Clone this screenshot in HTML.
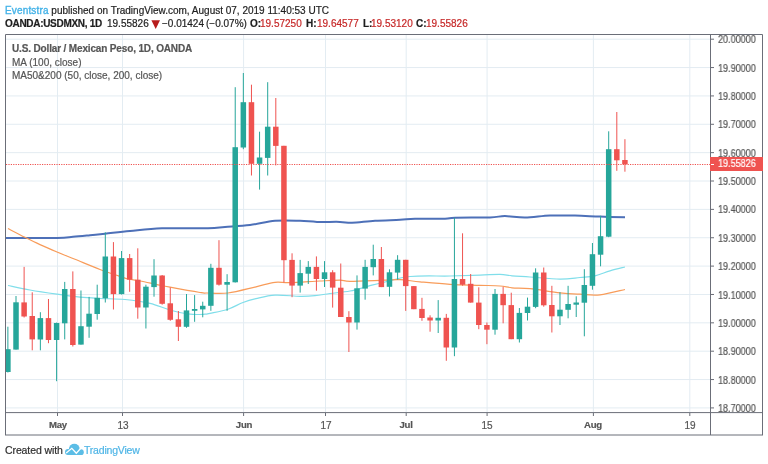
<!DOCTYPE html><html><head><meta charset="utf-8"><style>
html,body{margin:0;padding:0;background:#fff;width:768px;height:464px;overflow:hidden;position:relative;}
.t,.pl,.xl,.h{will-change:transform;-webkit-text-stroke:0.2px currentColor;}
.t{position:absolute;white-space:nowrap;font-family:"Liberation Sans",sans-serif;font-size:10px;line-height:12px;color:#1e1e1e;}
.h{position:absolute;white-space:nowrap;font-family:"Liberation Sans",sans-serif;font-size:10px;line-height:12px;color:#1e1e1e;top:18px;}
.pl{position:absolute;left:718px;font-family:"Liberation Sans",sans-serif;font-size:10px;line-height:12px;color:#555;transform:scaleX(0.905);transform-origin:0 0;}
.xl{position:absolute;font-family:"Liberation Sans",sans-serif;font-size:10px;line-height:12px;color:#555;text-align:center;width:40px;}
</style></head><body>
<svg width="768" height="464" style="position:absolute;left:0;top:0">
<line x1="6" y1="39.2" x2="710" y2="39.2" stroke="#e3ecf2" stroke-width="1"/>
<line x1="6" y1="67.56" x2="710" y2="67.56" stroke="#e3ecf2" stroke-width="1"/>
<line x1="6" y1="95.93" x2="710" y2="95.93" stroke="#e3ecf2" stroke-width="1"/>
<line x1="6" y1="124.29" x2="710" y2="124.29" stroke="#e3ecf2" stroke-width="1"/>
<line x1="6" y1="152.65" x2="710" y2="152.65" stroke="#e3ecf2" stroke-width="1"/>
<line x1="6" y1="181.01" x2="710" y2="181.01" stroke="#e3ecf2" stroke-width="1"/>
<line x1="6" y1="209.38" x2="710" y2="209.38" stroke="#e3ecf2" stroke-width="1"/>
<line x1="6" y1="237.74" x2="710" y2="237.74" stroke="#e3ecf2" stroke-width="1"/>
<line x1="6" y1="266.1" x2="710" y2="266.1" stroke="#e3ecf2" stroke-width="1"/>
<line x1="6" y1="294.47" x2="710" y2="294.47" stroke="#e3ecf2" stroke-width="1"/>
<line x1="6" y1="322.83" x2="710" y2="322.83" stroke="#e3ecf2" stroke-width="1"/>
<line x1="6" y1="351.19" x2="710" y2="351.19" stroke="#e3ecf2" stroke-width="1"/>
<line x1="6" y1="379.56" x2="710" y2="379.56" stroke="#e3ecf2" stroke-width="1"/>
<line x1="6" y1="407.92" x2="710" y2="407.92" stroke="#e3ecf2" stroke-width="1"/>
<line x1="57.5" y1="35" x2="57.5" y2="412" stroke="#e3ecf2" stroke-width="1"/>
<line x1="122.5" y1="35" x2="122.5" y2="412" stroke="#e3ecf2" stroke-width="1"/>
<line x1="243.6" y1="35" x2="243.6" y2="412" stroke="#e3ecf2" stroke-width="1"/>
<line x1="325.5" y1="35" x2="325.5" y2="412" stroke="#e3ecf2" stroke-width="1"/>
<line x1="406.2" y1="35" x2="406.2" y2="412" stroke="#e3ecf2" stroke-width="1"/>
<line x1="487.08" y1="35" x2="487.08" y2="412" stroke="#e3ecf2" stroke-width="1"/>
<line x1="593.4" y1="35" x2="593.4" y2="412" stroke="#e3ecf2" stroke-width="1"/>
<line x1="689.8" y1="35" x2="689.8" y2="412" stroke="#e3ecf2" stroke-width="1"/>
<defs><clipPath id="cp"><rect x="6" y="35" width="704" height="377"/></clipPath></defs>
<g clip-path="url(#cp)">
<path d="M8,285.5 C11.67,286.25 21.83,288.55 30,290.0 C38.17,291.45 48.67,293.00 57,294.2 C65.33,295.40 72.83,296.48 80,297.2 C87.17,297.92 92.50,298.12 100,298.5 C107.50,298.88 116.67,298.70 125,299.5 C133.33,300.30 142.50,301.55 150,303.3 C157.50,305.05 163.33,308.18 170,310.0 C176.67,311.82 184.17,313.50 190,314.2 C195.83,314.90 201.67,314.35 205,314.2 C208.33,314.05 206.17,314.13 210,313.3 C213.83,312.47 222.50,311.00 228,309.2 C233.50,307.40 238.33,304.25 243,302.5 C247.67,300.75 250.67,299.92 256,298.7 C261.33,297.48 267.67,295.60 275,295.2 C282.33,294.80 293.33,296.22 300,296.3 C306.67,296.38 310.00,296.17 315,295.7 C320.00,295.23 324.17,294.28 330,293.5 C335.83,292.72 343.33,292.30 350,291.0 C356.67,289.70 364.17,287.20 370,285.7 C375.83,284.20 378.33,283.53 385,282.0 C391.67,280.47 399.17,277.50 410,276.5 C420.83,275.50 438.33,276.22 450,276.0 C461.67,275.78 471.67,275.48 480,275.2 C488.33,274.92 494.67,274.20 500,274.3 C505.33,274.40 507.00,275.35 512,275.8 C517.00,276.25 522.00,276.43 530,277.0 C538.00,277.57 551.67,279.12 560,279.2 C568.33,279.28 574.17,278.07 580,277.5 C585.83,276.93 590.00,276.92 595,275.8 C600.00,274.68 605.00,272.27 610,270.8 C615.00,269.33 622.50,267.63 625,267.0" fill="none" stroke="#80deea" stroke-width="1.2"/>
<path d="M5,237.9 C13.67,237.90 45.67,238.08 57,237.9 C68.33,237.72 67.50,237.25 73,236.8 C78.50,236.35 84.67,235.72 90,235.2 C95.33,234.68 98.33,234.40 105,233.7 C111.67,233.00 120.50,231.90 130,231.0 C139.50,230.10 149.00,228.75 162,228.3 C175.00,227.85 197.50,228.52 208,228.3 C218.50,228.08 218.00,227.55 225,227.0 C232.00,226.45 241.67,226.03 250,225.0 C258.33,223.97 266.67,221.50 275,220.8 C283.33,220.10 293.00,220.62 300,220.8 C307.00,220.98 310.33,221.72 317,221.9 C323.67,222.08 334.17,221.75 340,221.9 C345.83,222.05 346.17,222.98 352,222.8 C357.83,222.62 367.00,221.30 375,220.8 C383.00,220.30 393.33,220.13 400,219.8 C406.67,219.47 407.50,218.98 415,218.8 C422.50,218.62 438.33,218.88 445,218.7 C451.67,218.52 447.50,217.92 455,217.7 C462.50,217.48 481.67,217.67 490,217.4 C498.33,217.13 499.17,216.07 505,216.1 C510.83,216.13 517.50,217.68 525,217.6 C532.50,217.52 541.67,215.93 550,215.6 C558.33,215.27 566.67,215.43 575,215.6 C583.33,215.77 591.67,216.32 600,216.6 C608.33,216.88 620.83,217.18 625,217.3" fill="none" stroke="#4d70b8" stroke-width="2"/>
<path d="M8,228.5 C10.83,229.97 19.67,234.62 25,237.3 C30.33,239.98 34.67,242.15 40,244.6 C45.33,247.05 51.17,249.55 57,252.0 C62.83,254.45 67.83,256.38 75,259.3 C82.17,262.22 93.33,266.93 100,269.5 C106.67,272.07 110.33,273.12 115,274.7 C119.67,276.28 123.83,277.95 128,279.0 C132.17,280.05 135.33,280.12 140,281.0 C144.67,281.88 151.00,283.27 156,284.3 C161.00,285.33 162.67,285.83 170,287.2 C177.33,288.57 193.83,291.53 200,292.5 C206.17,293.47 202.33,292.92 207,293.0 C211.67,293.08 219.83,294.03 228,293.0 C236.17,291.97 248.17,288.58 256,286.8 C263.83,285.02 269.33,282.98 275,282.3 C280.67,281.62 282.50,282.92 290,282.7 C297.50,282.48 311.67,281.42 320,281.0 C328.33,280.58 335.00,280.15 340,280.2 C345.00,280.25 342.67,281.30 350,281.3 C357.33,281.30 375.67,280.47 384,280.2 C392.33,279.93 394.00,279.43 400,279.7 C406.00,279.97 411.67,281.03 420,281.8 C428.33,282.57 440.00,283.72 450,284.3 C460.00,284.88 471.67,285.02 480,285.3 C488.33,285.58 494.67,285.58 500,286.0 C505.33,286.42 507.00,287.35 512,287.8 C517.00,288.25 522.00,287.87 530,288.7 C538.00,289.53 551.67,291.88 560,292.8 C568.33,293.72 573.33,293.87 580,294.2 C586.67,294.53 592.50,295.58 600,294.8 C607.50,294.02 620.83,290.38 625,289.5" fill="none" stroke="#f89c5a" stroke-width="1.2"/>
<line x1="7.89" y1="326.7" x2="7.89" y2="372.5" stroke="#26a69a" stroke-width="1"/>
<rect x="5.14" y="349.2" width="5.5" height="22.8" fill="#26a69a"/>
<line x1="16.01" y1="296.0" x2="16.01" y2="349.6" stroke="#26a69a" stroke-width="1"/>
<rect x="13.26" y="302.3" width="5.5" height="47.3" fill="#26a69a"/>
<line x1="24.12" y1="266.9" x2="24.12" y2="317.5" stroke="#ef5350" stroke-width="1"/>
<rect x="21.37" y="302.4" width="5.5" height="14.1" fill="#ef5350"/>
<line x1="32.24" y1="292.3" x2="32.24" y2="350.3" stroke="#ef5350" stroke-width="1"/>
<rect x="29.49" y="316.0" width="5.5" height="23.4" fill="#ef5350"/>
<line x1="40.36" y1="312.2" x2="40.36" y2="350.3" stroke="#26a69a" stroke-width="1"/>
<rect x="37.61" y="318.1" width="5.5" height="21.4" fill="#26a69a"/>
<line x1="48.48" y1="299.0" x2="48.48" y2="343.2" stroke="#ef5350" stroke-width="1"/>
<rect x="45.73" y="318.1" width="5.5" height="21.9" fill="#ef5350"/>
<line x1="56.60" y1="322.6" x2="56.60" y2="381.2" stroke="#26a69a" stroke-width="1"/>
<rect x="53.85" y="323.0" width="5.5" height="17.0" fill="#26a69a"/>
<line x1="64.72" y1="281.9" x2="64.72" y2="339.4" stroke="#26a69a" stroke-width="1"/>
<rect x="61.97" y="289.0" width="5.5" height="34.3" fill="#26a69a"/>
<line x1="72.84" y1="271.4" x2="72.84" y2="346.5" stroke="#ef5350" stroke-width="1"/>
<rect x="70.09" y="289.0" width="5.5" height="56.0" fill="#ef5350"/>
<line x1="80.96" y1="290.5" x2="80.96" y2="344.6" stroke="#26a69a" stroke-width="1"/>
<rect x="78.21" y="326.2" width="5.5" height="18.4" fill="#26a69a"/>
<line x1="89.08" y1="296.9" x2="89.08" y2="337.8" stroke="#26a69a" stroke-width="1"/>
<rect x="86.33" y="313.7" width="5.5" height="13.0" fill="#26a69a"/>
<line x1="97.19" y1="284.7" x2="97.19" y2="319.7" stroke="#26a69a" stroke-width="1"/>
<rect x="94.44" y="297.8" width="5.5" height="16.2" fill="#26a69a"/>
<line x1="105.31" y1="232.3" x2="105.31" y2="302.5" stroke="#26a69a" stroke-width="1"/>
<rect x="102.56" y="256.5" width="5.5" height="41.8" fill="#26a69a"/>
<line x1="113.43" y1="242.1" x2="113.43" y2="309.5" stroke="#ef5350" stroke-width="1"/>
<rect x="110.68" y="256.5" width="5.5" height="37.6" fill="#ef5350"/>
<line x1="121.55" y1="251.0" x2="121.55" y2="294.5" stroke="#26a69a" stroke-width="1"/>
<rect x="118.80" y="258.1" width="5.5" height="36.0" fill="#26a69a"/>
<line x1="129.67" y1="254.0" x2="129.67" y2="291.8" stroke="#ef5350" stroke-width="1"/>
<rect x="126.92" y="258.1" width="5.5" height="21.6" fill="#ef5350"/>
<line x1="137.79" y1="248.3" x2="137.79" y2="318.7" stroke="#ef5350" stroke-width="1"/>
<rect x="135.04" y="279.7" width="5.5" height="27.8" fill="#ef5350"/>
<line x1="145.91" y1="284.7" x2="145.91" y2="328.5" stroke="#26a69a" stroke-width="1"/>
<rect x="143.16" y="286.7" width="5.5" height="20.8" fill="#26a69a"/>
<line x1="154.03" y1="259.2" x2="154.03" y2="296.7" stroke="#26a69a" stroke-width="1"/>
<rect x="151.28" y="275.5" width="5.5" height="11.6" fill="#26a69a"/>
<line x1="162.15" y1="275.0" x2="162.15" y2="304.7" stroke="#ef5350" stroke-width="1"/>
<rect x="159.40" y="275.5" width="5.5" height="28.3" fill="#ef5350"/>
<line x1="170.27" y1="287.5" x2="170.27" y2="320.8" stroke="#ef5350" stroke-width="1"/>
<rect x="167.52" y="303.3" width="5.5" height="16.5" fill="#ef5350"/>
<line x1="178.38" y1="311.0" x2="178.38" y2="341.0" stroke="#ef5350" stroke-width="1"/>
<rect x="175.63" y="319.3" width="5.5" height="7.5" fill="#ef5350"/>
<line x1="186.50" y1="294.0" x2="186.50" y2="327.8" stroke="#26a69a" stroke-width="1"/>
<rect x="183.75" y="310.4" width="5.5" height="16.4" fill="#26a69a"/>
<line x1="194.62" y1="295.1" x2="194.62" y2="321.8" stroke="#26a69a" stroke-width="1"/>
<rect x="191.87" y="309.0" width="5.5" height="1.8" fill="#26a69a"/>
<line x1="202.74" y1="301.7" x2="202.74" y2="317.3" stroke="#26a69a" stroke-width="1"/>
<rect x="199.99" y="305.8" width="5.5" height="3.6" fill="#26a69a"/>
<line x1="210.86" y1="263.8" x2="210.86" y2="310.8" stroke="#26a69a" stroke-width="1"/>
<rect x="208.11" y="267.8" width="5.5" height="38.0" fill="#26a69a"/>
<line x1="218.98" y1="240.2" x2="218.98" y2="285.6" stroke="#ef5350" stroke-width="1"/>
<rect x="216.23" y="267.8" width="5.5" height="16.9" fill="#ef5350"/>
<line x1="227.10" y1="274.2" x2="227.10" y2="310.8" stroke="#26a69a" stroke-width="1"/>
<rect x="224.35" y="282.0" width="5.5" height="2.7" fill="#26a69a"/>
<line x1="235.22" y1="87.2" x2="235.22" y2="282.5" stroke="#26a69a" stroke-width="1"/>
<rect x="232.47" y="147.2" width="5.5" height="135.1" fill="#26a69a"/>
<line x1="243.34" y1="73.0" x2="243.34" y2="149.2" stroke="#26a69a" stroke-width="1"/>
<rect x="240.59" y="102.2" width="5.5" height="45.3" fill="#26a69a"/>
<line x1="251.46" y1="84.7" x2="251.46" y2="175.5" stroke="#ef5350" stroke-width="1"/>
<rect x="248.71" y="102.2" width="5.5" height="61.6" fill="#ef5350"/>
<line x1="259.57" y1="131.7" x2="259.57" y2="189.6" stroke="#26a69a" stroke-width="1"/>
<rect x="256.82" y="157.5" width="5.5" height="6.3" fill="#26a69a"/>
<line x1="267.69" y1="82.2" x2="267.69" y2="175.5" stroke="#26a69a" stroke-width="1"/>
<rect x="264.94" y="126.7" width="5.5" height="31.2" fill="#26a69a"/>
<line x1="275.81" y1="98.0" x2="275.81" y2="165.4" stroke="#ef5350" stroke-width="1"/>
<rect x="273.06" y="126.7" width="5.5" height="19.2" fill="#ef5350"/>
<line x1="283.93" y1="145.8" x2="283.93" y2="282.5" stroke="#ef5350" stroke-width="1"/>
<rect x="281.18" y="145.8" width="5.5" height="114.4" fill="#ef5350"/>
<line x1="292.05" y1="253.3" x2="292.05" y2="297.2" stroke="#ef5350" stroke-width="1"/>
<rect x="289.30" y="259.9" width="5.5" height="25.7" fill="#ef5350"/>
<line x1="300.17" y1="259.9" x2="300.17" y2="292.6" stroke="#26a69a" stroke-width="1"/>
<rect x="297.42" y="273.1" width="5.5" height="12.5" fill="#26a69a"/>
<line x1="308.29" y1="261.1" x2="308.29" y2="284.0" stroke="#26a69a" stroke-width="1"/>
<rect x="305.54" y="266.9" width="5.5" height="6.8" fill="#26a69a"/>
<line x1="316.41" y1="256.4" x2="316.41" y2="290.7" stroke="#ef5350" stroke-width="1"/>
<rect x="313.66" y="266.9" width="5.5" height="12.1" fill="#ef5350"/>
<line x1="324.53" y1="261.1" x2="324.53" y2="287.0" stroke="#26a69a" stroke-width="1"/>
<rect x="321.78" y="272.3" width="5.5" height="6.7" fill="#26a69a"/>
<line x1="332.65" y1="270.2" x2="332.65" y2="307.6" stroke="#ef5350" stroke-width="1"/>
<rect x="329.90" y="272.3" width="5.5" height="15.3" fill="#ef5350"/>
<line x1="340.76" y1="263.5" x2="340.76" y2="317.0" stroke="#ef5350" stroke-width="1"/>
<rect x="338.01" y="287.7" width="5.5" height="29.3" fill="#ef5350"/>
<line x1="348.88" y1="311.2" x2="348.88" y2="352.0" stroke="#ef5350" stroke-width="1"/>
<rect x="346.13" y="317.0" width="5.5" height="5.5" fill="#ef5350"/>
<line x1="357.00" y1="275.4" x2="357.00" y2="329.6" stroke="#26a69a" stroke-width="1"/>
<rect x="354.25" y="288.3" width="5.5" height="34.2" fill="#26a69a"/>
<line x1="365.12" y1="259.8" x2="365.12" y2="299.7" stroke="#26a69a" stroke-width="1"/>
<rect x="362.37" y="266.9" width="5.5" height="21.7" fill="#26a69a"/>
<line x1="373.24" y1="244.7" x2="373.24" y2="275.4" stroke="#26a69a" stroke-width="1"/>
<rect x="370.49" y="259.0" width="5.5" height="8.2" fill="#26a69a"/>
<line x1="381.36" y1="247.0" x2="381.36" y2="287.1" stroke="#ef5350" stroke-width="1"/>
<rect x="378.61" y="259.0" width="5.5" height="28.1" fill="#ef5350"/>
<line x1="389.48" y1="269.3" x2="389.48" y2="296.5" stroke="#26a69a" stroke-width="1"/>
<rect x="386.73" y="272.3" width="5.5" height="14.5" fill="#26a69a"/>
<line x1="397.60" y1="255.2" x2="397.60" y2="279.7" stroke="#26a69a" stroke-width="1"/>
<rect x="394.85" y="259.8" width="5.5" height="12.8" fill="#26a69a"/>
<line x1="405.72" y1="259.8" x2="405.72" y2="310.9" stroke="#ef5350" stroke-width="1"/>
<rect x="402.97" y="259.8" width="5.5" height="26.3" fill="#ef5350"/>
<line x1="413.84" y1="286.1" x2="413.84" y2="309.2" stroke="#ef5350" stroke-width="1"/>
<rect x="411.09" y="286.1" width="5.5" height="23.1" fill="#ef5350"/>
<line x1="421.96" y1="297.8" x2="421.96" y2="320.8" stroke="#ef5350" stroke-width="1"/>
<rect x="419.21" y="308.9" width="5.5" height="9.1" fill="#ef5350"/>
<line x1="430.07" y1="315.3" x2="430.07" y2="331.7" stroke="#ef5350" stroke-width="1"/>
<rect x="427.32" y="317.5" width="5.5" height="3.0" fill="#ef5350"/>
<line x1="438.19" y1="300.1" x2="438.19" y2="333.0" stroke="#26a69a" stroke-width="1"/>
<rect x="435.44" y="317.8" width="5.5" height="2.7" fill="#26a69a"/>
<line x1="446.31" y1="313.9" x2="446.31" y2="360.8" stroke="#ef5350" stroke-width="1"/>
<rect x="443.56" y="317.8" width="5.5" height="29.7" fill="#ef5350"/>
<line x1="454.43" y1="217.8" x2="454.43" y2="356.2" stroke="#26a69a" stroke-width="1"/>
<rect x="451.68" y="279.0" width="5.5" height="68.5" fill="#26a69a"/>
<line x1="462.55" y1="233.3" x2="462.55" y2="285.7" stroke="#ef5350" stroke-width="1"/>
<rect x="459.80" y="279.0" width="5.5" height="5.7" fill="#ef5350"/>
<line x1="470.67" y1="274.0" x2="470.67" y2="302.6" stroke="#ef5350" stroke-width="1"/>
<rect x="467.92" y="283.8" width="5.5" height="18.8" fill="#ef5350"/>
<line x1="478.79" y1="287.3" x2="478.79" y2="329.2" stroke="#ef5350" stroke-width="1"/>
<rect x="476.04" y="302.6" width="5.5" height="22.4" fill="#ef5350"/>
<line x1="486.91" y1="322.5" x2="486.91" y2="344.2" stroke="#ef5350" stroke-width="1"/>
<rect x="484.16" y="325.0" width="5.5" height="4.7" fill="#ef5350"/>
<line x1="495.03" y1="289.0" x2="495.03" y2="334.7" stroke="#26a69a" stroke-width="1"/>
<rect x="492.28" y="293.9" width="5.5" height="35.8" fill="#26a69a"/>
<line x1="503.14" y1="286.8" x2="503.14" y2="323.3" stroke="#ef5350" stroke-width="1"/>
<rect x="500.39" y="293.9" width="5.5" height="11.3" fill="#ef5350"/>
<line x1="511.26" y1="292.7" x2="511.26" y2="339.2" stroke="#ef5350" stroke-width="1"/>
<rect x="508.51" y="305.1" width="5.5" height="34.1" fill="#ef5350"/>
<line x1="519.38" y1="308.0" x2="519.38" y2="342.5" stroke="#26a69a" stroke-width="1"/>
<rect x="516.63" y="312.9" width="5.5" height="26.3" fill="#26a69a"/>
<line x1="527.50" y1="297.6" x2="527.50" y2="320.5" stroke="#26a69a" stroke-width="1"/>
<rect x="524.75" y="306.7" width="5.5" height="6.3" fill="#26a69a"/>
<line x1="535.62" y1="268.3" x2="535.62" y2="308.2" stroke="#26a69a" stroke-width="1"/>
<rect x="532.87" y="272.5" width="5.5" height="34.4" fill="#26a69a"/>
<line x1="543.74" y1="267.5" x2="543.74" y2="306.7" stroke="#ef5350" stroke-width="1"/>
<rect x="540.99" y="272.5" width="5.5" height="32.8" fill="#ef5350"/>
<line x1="551.86" y1="285.8" x2="551.86" y2="332.5" stroke="#ef5350" stroke-width="1"/>
<rect x="549.11" y="305.0" width="5.5" height="11.3" fill="#ef5350"/>
<line x1="559.98" y1="292.2" x2="559.98" y2="325.0" stroke="#26a69a" stroke-width="1"/>
<rect x="557.23" y="309.7" width="5.5" height="6.6" fill="#26a69a"/>
<line x1="568.10" y1="285.8" x2="568.10" y2="318.3" stroke="#26a69a" stroke-width="1"/>
<rect x="565.35" y="304.0" width="5.5" height="5.8" fill="#26a69a"/>
<line x1="576.22" y1="296.3" x2="576.22" y2="317.0" stroke="#26a69a" stroke-width="1"/>
<rect x="573.47" y="302.5" width="5.5" height="2.2" fill="#26a69a"/>
<line x1="584.34" y1="269.2" x2="584.34" y2="336.3" stroke="#26a69a" stroke-width="1"/>
<rect x="581.59" y="285.0" width="5.5" height="17.7" fill="#26a69a"/>
<line x1="592.45" y1="243.0" x2="592.45" y2="289.7" stroke="#26a69a" stroke-width="1"/>
<rect x="589.70" y="254.2" width="5.5" height="31.6" fill="#26a69a"/>
<line x1="600.57" y1="215.8" x2="600.57" y2="266.3" stroke="#26a69a" stroke-width="1"/>
<rect x="597.82" y="236.2" width="5.5" height="18.5" fill="#26a69a"/>
<line x1="608.69" y1="131.3" x2="608.69" y2="237.2" stroke="#26a69a" stroke-width="1"/>
<rect x="605.94" y="149.2" width="5.5" height="87.5" fill="#26a69a"/>
<line x1="616.81" y1="112.0" x2="616.81" y2="170.8" stroke="#ef5350" stroke-width="1"/>
<rect x="614.06" y="149.2" width="5.5" height="11.1" fill="#ef5350"/>
<line x1="624.93" y1="139.2" x2="624.93" y2="171.7" stroke="#ef5350" stroke-width="1"/>
<rect x="622.18" y="160.0" width="5.5" height="4.2" fill="#ef5350"/>
<line x1="6" y1="164.5" x2="710" y2="164.5" stroke="#ef5350" stroke-width="1" stroke-dasharray="1.2 1.2"/>
</g>
<path d="M5.5,435 V34.5 H762.5 V435" fill="none" stroke="#6b6e78" stroke-width="1"/>
<line x1="5" y1="435" x2="763" y2="435" stroke="#6b6e78" stroke-width="1"/>
<line x1="710.5" y1="34" x2="710.5" y2="435" stroke="#6b6e78" stroke-width="1"/>
<line x1="5" y1="412.6" x2="763" y2="412.6" stroke="#6b6e78" stroke-width="1"/>
<line x1="711" y1="39.2" x2="714" y2="39.2" stroke="#6b6e78" stroke-width="1"/>
<line x1="711" y1="67.56" x2="714" y2="67.56" stroke="#6b6e78" stroke-width="1"/>
<line x1="711" y1="95.93" x2="714" y2="95.93" stroke="#6b6e78" stroke-width="1"/>
<line x1="711" y1="124.29" x2="714" y2="124.29" stroke="#6b6e78" stroke-width="1"/>
<line x1="711" y1="152.65" x2="714" y2="152.65" stroke="#6b6e78" stroke-width="1"/>
<line x1="711" y1="181.01" x2="714" y2="181.01" stroke="#6b6e78" stroke-width="1"/>
<line x1="711" y1="209.38" x2="714" y2="209.38" stroke="#6b6e78" stroke-width="1"/>
<line x1="711" y1="237.74" x2="714" y2="237.74" stroke="#6b6e78" stroke-width="1"/>
<line x1="711" y1="266.1" x2="714" y2="266.1" stroke="#6b6e78" stroke-width="1"/>
<line x1="711" y1="294.47" x2="714" y2="294.47" stroke="#6b6e78" stroke-width="1"/>
<line x1="711" y1="322.83" x2="714" y2="322.83" stroke="#6b6e78" stroke-width="1"/>
<line x1="711" y1="351.19" x2="714" y2="351.19" stroke="#6b6e78" stroke-width="1"/>
<line x1="711" y1="379.56" x2="714" y2="379.56" stroke="#6b6e78" stroke-width="1"/>
<line x1="711" y1="407.92" x2="714" y2="407.92" stroke="#6b6e78" stroke-width="1"/>
<line x1="57.5" y1="413" x2="57.5" y2="416" stroke="#6b6e78" stroke-width="1"/>
<line x1="122.5" y1="413" x2="122.5" y2="416" stroke="#6b6e78" stroke-width="1"/>
<line x1="243.6" y1="413" x2="243.6" y2="416" stroke="#6b6e78" stroke-width="1"/>
<line x1="325.5" y1="413" x2="325.5" y2="416" stroke="#6b6e78" stroke-width="1"/>
<line x1="406.2" y1="413" x2="406.2" y2="416" stroke="#6b6e78" stroke-width="1"/>
<line x1="487.08" y1="413" x2="487.08" y2="416" stroke="#6b6e78" stroke-width="1"/>
<line x1="593.4" y1="413" x2="593.4" y2="416" stroke="#6b6e78" stroke-width="1"/>
<line x1="689.8" y1="413" x2="689.8" y2="416" stroke="#6b6e78" stroke-width="1"/>
<rect x="710" y="157" width="53" height="14" fill="#ef5350"/>
<line x1="711" y1="164.5" x2="714" y2="164.5" stroke="#fff" stroke-width="1"/>
</svg>
<div class="t" style="left:5px;top:5px;"><span style="color:#45b3e8;letter-spacing:0.15px;-webkit-text-stroke:0.35px #45b3e8">Eventstra</span> published on TradingView.com, August 07, 2019 11:40:53 UTC</div>
<div class="h" style="left:5px;font-weight:bold;letter-spacing:-0.3px">OANDA:USDMXN, 1D</div>
<div class="h" style="left:107.2px;">19.55826</div>
<div class="h" style="left:162.2px;">−0.01424</div>
<div class="h" style="left:206.2px;">(−0.07%)</div>
<div class="h" style="left:249.5px;font-weight:bold">O:</div>
<div class="h" style="left:260.3px;color:#c62828">19.57250</div>
<div class="h" style="left:306px;font-weight:bold">H:</div>
<div class="h" style="left:317px;color:#c62828">19.64577</div>
<div class="h" style="left:362.8px;font-weight:bold">L:</div>
<div class="h" style="left:371.3px;color:#c62828">19.53120</div>
<div class="h" style="left:416px;font-weight:bold">C:</div>
<div class="h" style="left:425.6px;color:#c62828">19.55826</div>
<svg width="10" height="10" style="position:absolute;left:151px;top:19.5px"><polygon points="0.4,0.25 9,0.25 4.7,9" fill="#b71c1c"/></svg>
<div class="t" style="left:12px;top:43px;color:#565656;font-weight:bold;letter-spacing:-0.15px">U.S. Dollar / Mexican Peso, 1D, OANDA</div>
<div class="t" style="left:12px;top:56.5px;color:#555">MA (100, close)</div>
<div class="t" style="left:12px;top:70px;color:#555">MA50&amp;200 (50, close, 200, close)</div>
<div class="pl" style="top:34.30px">20.00000</div>
<div class="pl" style="top:62.66px">19.90000</div>
<div class="pl" style="top:91.03px">19.80000</div>
<div class="pl" style="top:119.39px">19.70000</div>
<div class="pl" style="top:147.75px">19.60000</div>
<div class="pl" style="top:176.11px">19.50000</div>
<div class="pl" style="top:204.48px">19.40000</div>
<div class="pl" style="top:232.84px">19.30000</div>
<div class="pl" style="top:261.20px">19.20000</div>
<div class="pl" style="top:289.57px">19.10000</div>
<div class="pl" style="top:317.93px">19.00000</div>
<div class="pl" style="top:346.29px">18.90000</div>
<div class="pl" style="top:374.66px">18.80000</div>
<div class="pl" style="top:403.02px">18.70000</div>
<div class="pl" style="top:157.6px;color:#fff">19.55826</div>
<div class="xl" style="left:37.5px;top:420px;font-weight:bold;font-size:9.6px;letter-spacing:-0.25px;top:418.8px;">May</div>
<div class="xl" style="left:102.5px;top:420px;">13</div>
<div class="xl" style="left:223.6px;top:420px;font-weight:bold;font-size:9.6px;letter-spacing:-0.25px;top:418.8px;">Jun</div>
<div class="xl" style="left:305.5px;top:420px;">17</div>
<div class="xl" style="left:386.2px;top:420px;font-weight:bold;font-size:9.6px;letter-spacing:-0.25px;top:418.8px;">Jul</div>
<div class="xl" style="left:467.08px;top:420px;">15</div>
<div class="xl" style="left:573.4px;top:420px;font-weight:bold;font-size:9.6px;letter-spacing:-0.25px;top:418.8px;">Aug</div>
<div class="xl" style="left:669.8px;top:420px;">19</div>
<div class="t" style="left:5px;top:444px;font-size:10.5px;color:#2e2e2e;letter-spacing:-0.1px">Created with</div>
<svg width="24" height="16" style="position:absolute;left:62px;top:441px" viewBox="0 0 24 16"><g fill="#5bbde6"><ellipse cx="12.3" cy="7.9" rx="5.4" ry="5.1"/><circle cx="6" cy="11" r="3"/><circle cx="18.9" cy="11.2" r="2.9"/><rect x="5.5" y="9" width="13.5" height="5"/></g><polyline points="4.2,11.9 9.8,7.3 14.3,12.3 19.3,6.8" fill="none" stroke="#fff" stroke-width="1.3"/></svg>
<div class="t" style="left:84px;top:444px;font-size:10.5px;color:#4fb5e6;letter-spacing:-0.2px">TradingView</div>
</body></html>
